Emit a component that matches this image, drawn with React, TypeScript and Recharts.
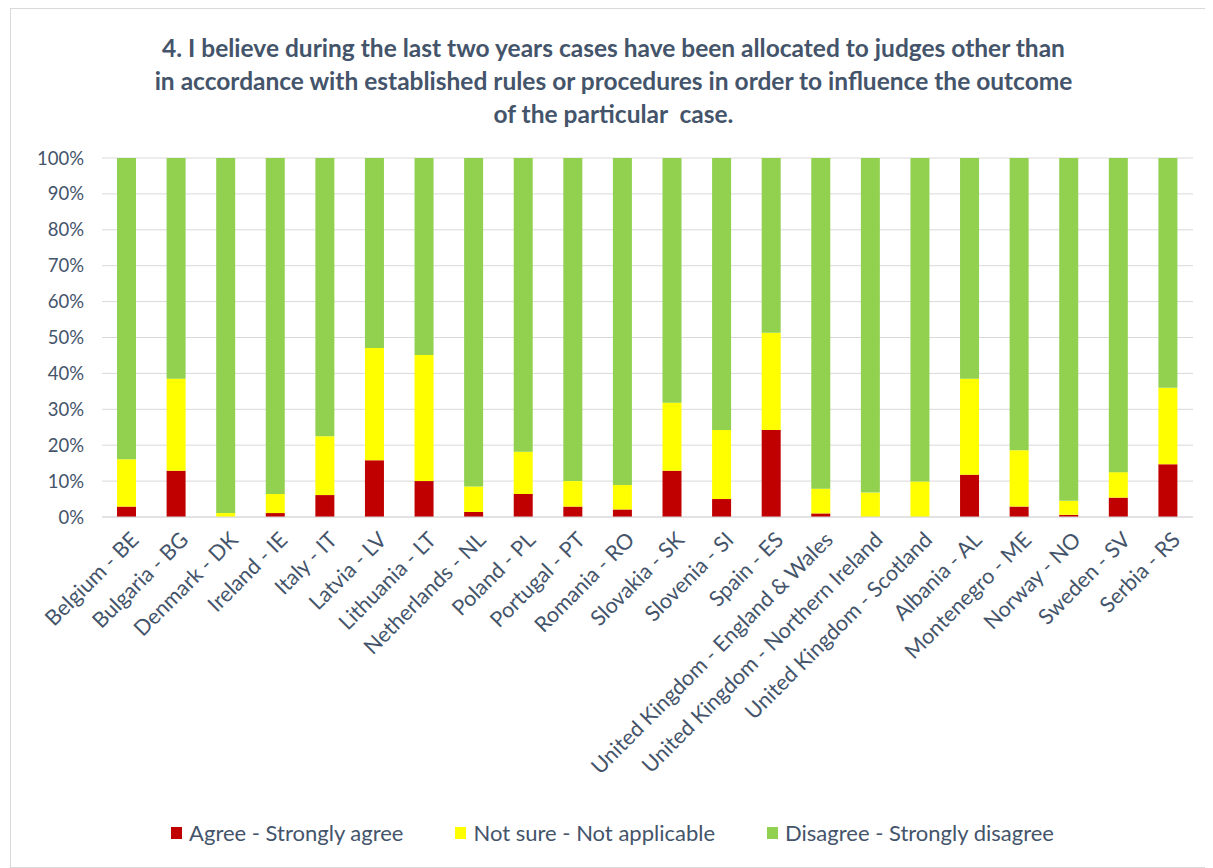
import React from 'react';
import { BarChart, Bar, XAxis, YAxis, CartesianGrid, Legend } from 'recharts';

const countries = [
    'Belgium - BE', 'Bulgaria - BG', 'Denmark - DK', 'Ireland - IE', 'Italy - IT',
    'Latvia - LV', 'Lithuania - LT', 'Netherlands - NL', 'Poland - PL', 'Portugal - PT',
    'Romania - RO', 'Slovakia - SK', 'Slovenia - SI', 'Spain - ES',
    'United Kingdom - England & Wales', 'United Kingdom - Northern Ireland',
    'United Kingdom - Scotland', 'Albania - AL', 'Montenegro - ME', 'Norway - NO',
    'Sweden - SV', 'Serbia - RS',
];

const agree = [2.9, 12.9, 0, 1.1, 6.1, 15.8, 10.0, 1.4, 6.4, 2.9, 2.1, 12.9, 5.0, 24.2, 1.0, 0, 0, 11.8, 2.9, 0.6, 5.4, 14.7];
const notSure = [13.2, 25.6, 1.1, 5.3, 16.4, 31.3, 35.1, 7.1, 11.8, 7.1, 6.8, 18.9, 19.2, 27.1, 6.9, 6.8, 9.9, 26.7, 15.7, 3.9, 7.1, 21.3];
const disagree = [83.9, 61.5, 98.9, 93.6, 77.5, 52.9, 54.9, 91.5, 81.8, 90.0, 91.1, 68.2, 75.8, 48.7, 92.1, 93.2, 90.1, 61.5, 81.4, 95.5, 87.5, 64.0];

const yTicks = [0, 10, 20, 30, 40, 50, 60, 70, 80, 90, 100];

const textColor = '#44546A';
const font = 'Lato, "Open Sans", sans-serif';

const data = countries.map((c, i) => ({
    country: c,
    agree: agree[i],
    notSure: notSure[i],
    disagree: disagree[i],
}));

const legendItems = [
    { label: 'Agree - Strongly agree', color: '#C00000' },
    { label: 'Not sure - Not applicable', color: '#FFFF00' },
    { label: 'Disagree - Strongly disagree', color: '#92D050' },
];

const XTick = (props: any) => {
    const { x, y, payload } = props;
    return (
        <g transform={`translate(${x + 9},${y + 12})`}>
            <text
                transform="rotate(-45)"
                textAnchor="end"
                dy={6}
                fontSize={21.5}
                fill={textColor}
                fontFamily={font}
            >
                {payload.value}
            </text>
        </g>
    );
};

const LegendContent = () => (
    <div style={{ display: 'flex', justifyContent: 'center', gap: 52, fontFamily: font, fontSize: 22, color: textColor, paddingLeft: 10 }}>
        {legendItems.map((it) => (
            <div key={it.label} style={{ display: 'flex', alignItems: 'center' }}>
                <span style={{ width: 11, height: 12, background: it.color, display: 'inline-block', marginRight: 7 }} />
                {it.label}
            </div>
        ))}
    </div>
);

const App: React.FC = () => {
    return (
        <div
            style={{
                position: 'relative',
                width: 1205,
                height: 860,
                marginLeft: 2,
                border: '1px solid #D9D9D9',
                background: '#FFFFFF',
                boxSizing: 'border-box',
            }}
        >
            <div
                style={{
                    position: 'absolute',
                    top: 22,
                    left: 0,
                    width: 1205,
                    textAlign: 'center',
                    fontFamily: font,
                    fontWeight: 'bold',
                    fontSize: 24.5,
                    lineHeight: '33px',
                    color: textColor,
                }}
            >
                4. I believe during the last two years cases have been allocated to judges other than
                <br />
                in accordance with established rules or procedures in order to influence the outcome
                <br />
                of the particular&nbsp; case.
            </div>
            <BarChart
                width={1203}
                height={858}
                data={data}
                barSize={19}
                margin={{ top: 149, right: 21, left: 11, bottom: 20 }}
            >
                <CartesianGrid vertical={false} stroke="#D9D9D9" />
                <XAxis
                    dataKey="country"
                    interval={0}
                    height={302}
                    tick={<XTick />}
                    tickLine={false}
                    axisLine={{ stroke: '#D9D9D9' }}
                />
                <YAxis
                    domain={[0, 100]}
                    ticks={yTicks}
                    tickFormatter={(v: number) => `${v}%`}
                    width={80}
                    tickLine={false}
                    axisLine={false}
                    tickMargin={12}
                    tick={{ fontSize: 18.5, fill: textColor, fontFamily: font }}
                />
                <Legend verticalAlign="bottom" height={28} content={<LegendContent />} />
                <Bar dataKey="agree" stackId="a" fill="#C00000" isAnimationActive={false} />
                <Bar dataKey="notSure" stackId="a" fill="#FFFF00" isAnimationActive={false} />
                <Bar dataKey="disagree" stackId="a" fill="#92D050" isAnimationActive={false} />
            </BarChart>
        </div>
    );
};

export default App;
